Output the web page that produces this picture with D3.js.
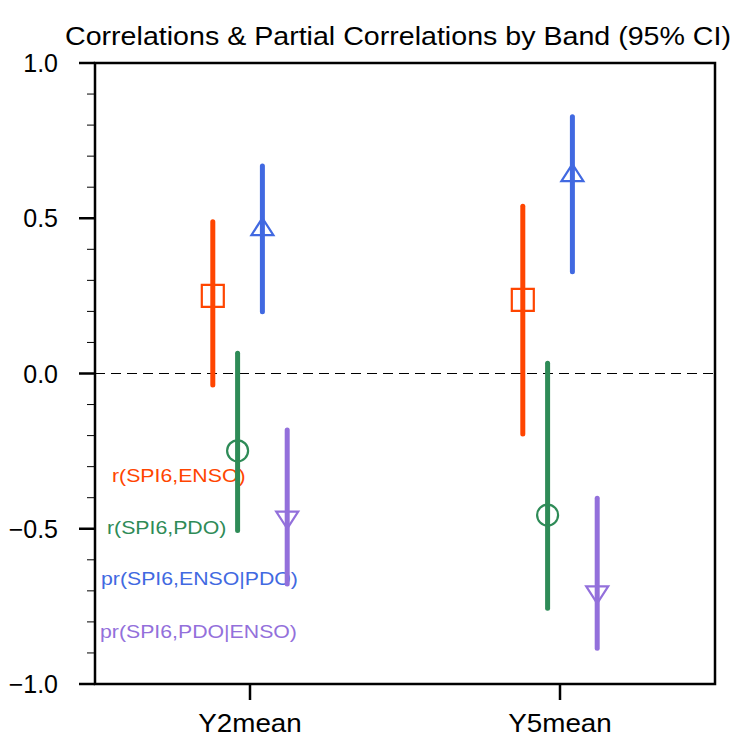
<!DOCTYPE html>
<html>
<head>
<meta charset="utf-8">
<script src="https://cdn.jsdelivr.net/npm/d3@7"></script>
<style>
  body { margin: 0; background: #fff; }
  text { font-family: "Liberation Sans", Arial, Helvetica, sans-serif; }
</style>
</head>
<body>
<div id="chart"></div>
<script>
// bands on the x axis
const bands = ["Y2mean", "Y5mean"];

// series labels, colours, markers
const seriesNames = ["r(SPI6,ENSO)", "r(SPI6,PDO)", "pr(SPI6,ENSO|PDO)", "pr(SPI6,PDO|ENSO)"];
const seriesColors = ["#FF4500", "#2E8B57", "#4169E1", "#9370DB"];
const seriesMarkers = ["square", "circle", "triUp", "triDown"];

// point estimates, one row per series, one value per band
const estimates = [
    [0.25, 0.237],
    [-0.249, -0.456],
    [0.473, 0.647],
    [-0.472, -0.713]
];
// lower and upper 95% CI
const lower = [
    [-0.037, -0.195],
    [-0.506, -0.756],
    [0.199, 0.328],
    [-0.678, -0.885]
];
const upper = [
    [0.489, 0.539],
    [0.065, 0.033],
    [0.668, 0.827],
    [-0.182, -0.402]
];

const yTicks = [-1.0, -0.5, 0.0, 0.5, 1.0];
const title = "Correlations & Partial Correlations by Band (95% CI)";

const width = 740, height = 746;
const margin = {top: 63, right: 25, bottom: 62, left: 95};
const plotW = width - margin.left - margin.right;
const plotH = height - margin.top - margin.bottom;

const svg = d3.select("#chart").append("svg")
    .attr("width", width)
    .attr("height", height);

const g = svg.append("g")
    .attr("transform", `translate(${margin.left},${margin.top})`);

const x = d3.scaleLinear().domain([0.5, 2.5]).range([0, plotW]);
const y = d3.scaleLinear().domain([-1, 1]).range([plotH, 0]);
const offsets = [-0.12, -0.04, 0.04, 0.12];

// the reference font is a bit wider than Liberation Sans, so stretch text
function wideText(sel, tx, ty, sx) {
    return sel.append("text")
        .attr("transform", `translate(${tx},${ty}) scale(${sx},1)`);
}

// title
wideText(svg, margin.left + plotW / 2 - 7, 45, 1.1)
    .attr("text-anchor", "middle")
    .style("font-size", "26px")
    .text(title);

// zero line
g.append("line")
    .attr("x1", 0).attr("x2", plotW)
    .attr("y1", y(0)).attr("y2", y(0))
    .attr("stroke", "#000")
    .attr("stroke-width", 1)
    .attr("stroke-dasharray", "10,6");

// series labels (under the bars)
const labelY = [-0.327, -0.494, -0.66, -0.829];
const labelX = [17, 12, 6, 5];
seriesNames.forEach((name, i) => {
    wideText(g, labelX[i], y(labelY[i]), 1.12)
        .attr("dy", "0.35em")
        .attr("fill", seriesColors[i])
        .style("font-size", "19px")
        .text(name);
});

// error bars + markers
const markerSize = 22;
function markerPath(type, cx, cy) {
    let s = markerSize / 2;
    if (type === "square") return `M${cx - s},${cy - s}h${2 * s}v${2 * s}h${-2 * s}Z`;
    if (type === "triUp") return `M${cx},${cy - 8.5}L${cx + s},${cy + 8.5}L${cx - s},${cy + 8.5}Z`;
    if (type === "triDown") return `M${cx},${cy + 8.5}L${cx + s},${cy - 8.5}L${cx - s},${cy - 8.5}Z`;
    return null;
}

seriesNames.forEach((name, i) => {
    bands.forEach((b, j) => {
        let cx = x(j + 1 + offsets[i]);
        g.append("line")
            .attr("x1", cx).attr("x2", cx)
            .attr("y1", y(lower[i][j])).attr("y2", y(upper[i][j]))
            .attr("stroke", seriesColors[i])
            .attr("stroke-width", 5)
            .attr("stroke-linecap", "round");
        let cy = y(estimates[i][j]);
        if (seriesMarkers[i] === "circle") {
            g.append("circle")
                .attr("cx", cx).attr("cy", cy).attr("r", 10.5)
                .attr("fill", "none")
                .attr("stroke", seriesColors[i])
                .attr("stroke-width", 2.2);
        } else {
            g.append("path")
                .attr("d", markerPath(seriesMarkers[i], cx, cy))
                .attr("fill", "none")
                .attr("stroke", seriesColors[i])
                .attr("stroke-width", 2.2);
        }
    });
});

// y axis with minor ticks
const minor = d3.range(-1, 1.0001, 0.1).filter(v => Math.abs(Math.round(v * 10) % 5) !== 0);
minor.forEach(v => {
    g.append("line")
        .attr("x1", -8).attr("x2", 0)
        .attr("y1", y(v)).attr("y2", y(v))
        .attr("stroke", "#000").attr("stroke-width", 1);
});
yTicks.forEach(v => {
    g.append("line")
        .attr("x1", -16).attr("x2", 0)
        .attr("y1", y(v)).attr("y2", y(v))
        .attr("stroke", "#000").attr("stroke-width", 2.5);
    wideText(g, -37, y(v), 1.0)
        .attr("dy", "0.36em")
        .attr("text-anchor", "end")
        .style("font-size", "25px")
        .text(d3.format(".1f")(v));
});

// x axis ticks and labels
bands.forEach((b, j) => {
    g.append("line")
        .attr("x1", x(j + 1)).attr("x2", x(j + 1))
        .attr("y1", plotH).attr("y2", plotH + 16)
        .attr("stroke", "#000").attr("stroke-width", 2.5);
    wideText(g, x(j + 1), plotH + 48, 1.07)
        .attr("text-anchor", "middle")
        .style("font-size", "26px")
        .text(b);
});

// frame
g.append("rect")
    .attr("width", plotW).attr("height", plotH)
    .attr("fill", "none")
    .attr("stroke", "#000")
    .attr("stroke-width", 2.5);
</script>
</body>
</html>
